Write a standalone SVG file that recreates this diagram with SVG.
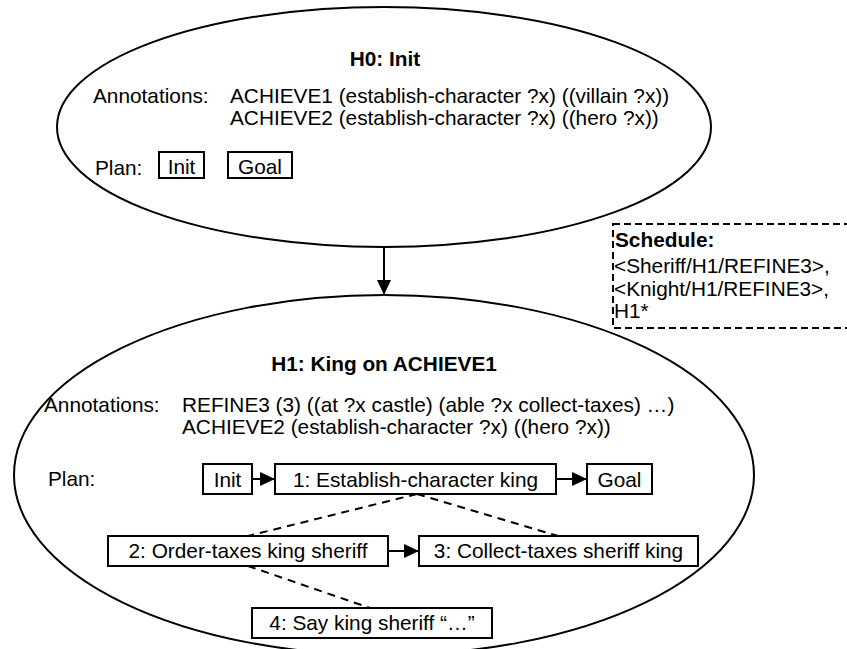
<svg xmlns="http://www.w3.org/2000/svg" width="847" height="649" viewBox="0 0 847 649">
<defs>
<style>
text{font-family:"Liberation Sans",Arial,sans-serif;font-size:20.8px;fill:#000}
.b{font-weight:bold}
.ell{fill:#fff;stroke:#000;stroke-width:2}
.box{fill:#fff;stroke:#000;stroke-width:2}
.ln{stroke:#000;stroke-width:2;fill:none}
.dash{stroke:#000;stroke-width:2;fill:none;stroke-dasharray:8 6}
.sched{fill:#fff;stroke:#000;stroke-width:2;stroke-dasharray:7 4}
</style>
<marker id="ah" markerUnits="userSpaceOnUse" markerWidth="16" markerHeight="14" refX="15" refY="7" orient="auto">
<path d="M0,0 L15,7 L0,14 z" fill="#000"/>
</marker>
</defs>
<rect width="847" height="649" fill="#fff"/>
<g id="H0">
<ellipse class="ell" cx="384" cy="127" rx="327" ry="120"/>
<text class="b" x="385" y="66" text-anchor="middle">H0: Init</text>
<text x="93" y="103">Annotations:</text>
<text x="230" y="103">ACHIEVE1 (establish-character ?x) ((villain ?x))</text>
<text x="230" y="125">ACHIEVE2 (establish-character ?x) ((hero ?x))</text>
<text x="95" y="175">Plan:</text>
<g id="H0-init"><rect class="box" x="159" y="152" width="45" height="26"/><text x="181.5" y="174" text-anchor="middle">Init</text></g>
<g id="H0-goal"><rect class="box" x="228" y="152" width="64" height="26"/><text x="260" y="174" text-anchor="middle">Goal</text></g>
</g>
<g id="schedule">
<rect class="sched" x="613" y="224" width="260" height="104"/>
<text class="b" x="615" y="247">Schedule:</text>
<text x="614" y="273">&lt;Sheriff/H1/REFINE3&gt;,</text>
<text x="614" y="296">&lt;Knight/H1/REFINE3&gt;,</text>
<text x="614" y="318">H1*</text>
</g>
<g id="H1">
<ellipse class="ell" cx="384" cy="475" rx="370" ry="180"/>
<text class="b" x="384" y="371" text-anchor="middle">H1: King on ACHIEVE1</text>
<text x="44" y="412">Annotations:</text>
<text x="182" y="412">REFINE3 (3) ((at ?x castle) (able ?x collect-taxes) …)</text>
<text x="182" y="434">ACHIEVE2 (establish-character ?x) ((hero ?x))</text>
<text x="48" y="486">Plan:</text>
</g>
<g id="H1-init"><rect class="box" x="203" y="464" width="49" height="30"/><text x="227.5" y="487" text-anchor="middle">Init</text></g>
<g id="step1"><rect class="box" x="275" y="464" width="281" height="30"/><text x="415.5" y="487" text-anchor="middle">1: Establish-character king</text></g>
<g id="H1-goal"><rect class="box" x="587" y="464" width="65" height="30"/><text x="619.5" y="487" text-anchor="middle">Goal</text></g>
<g id="step2"><rect class="box" x="108" y="536" width="280" height="30"/><text x="248" y="558" text-anchor="middle">2: Order-taxes king sheriff</text></g>
<g id="step3"><rect class="box" x="419" y="536" width="279" height="30"/><text x="558.5" y="558" text-anchor="middle">3: Collect-taxes sheriff king</text></g>
<g id="step4"><rect class="box" x="252" y="608" width="240" height="30"/><text x="372" y="630" text-anchor="middle">4: Say king sheriff “…”</text></g>
<g id="connectors">
<line class="ln" x1="384" y1="247" x2="384" y2="295" marker-end="url(#ah)"/>
<line class="ln" x1="252" y1="479" x2="275" y2="479" marker-end="url(#ah)"/>
<line class="ln" x1="556" y1="479" x2="587" y2="479" marker-end="url(#ah)"/>
<line class="ln" x1="388" y1="551" x2="419" y2="551" marker-end="url(#ah)"/>
<line class="dash" x1="417" y1="494" x2="248" y2="536"/>
<line class="dash" x1="417" y1="494" x2="558" y2="536"/>
<line class="dash" x1="248" y1="566" x2="370" y2="608"/>
</g>
</svg>
